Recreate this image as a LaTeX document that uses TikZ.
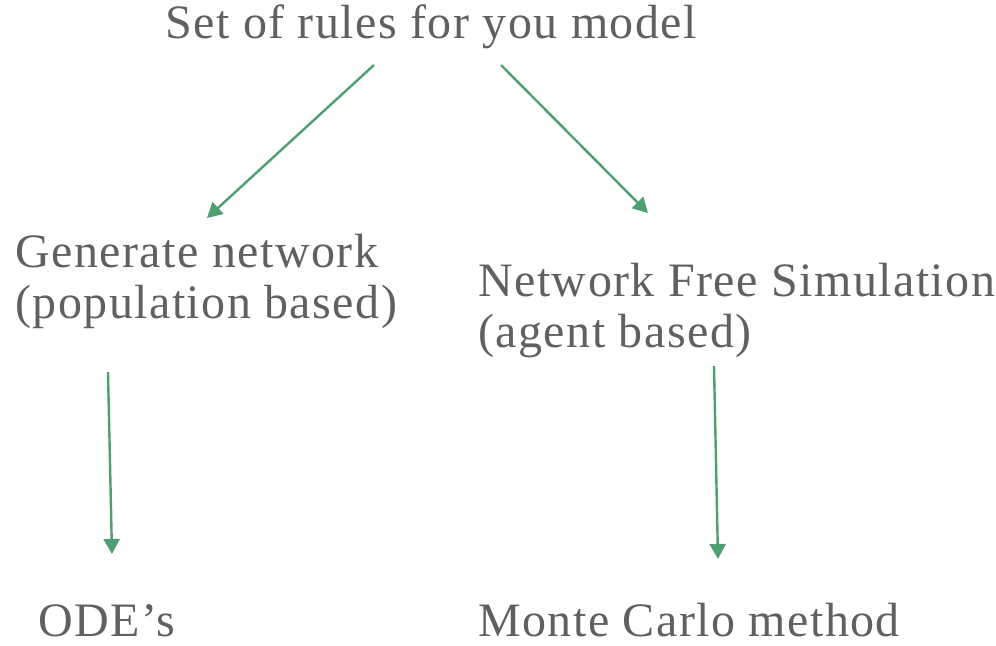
\documentclass[tikz,border=0pt]{standalone}
\usepackage{fontspec}
\setmainfont[LetterSpace=3]{Liberation Serif}
\usetikzlibrary{arrows.meta}
\definecolor{Ink}{HTML}{606060}
\definecolor{Green}{HTML}{4EA072}

\begin{document}
\begin{tikzpicture}[
  x=0.5pt,y=-0.5pt,
  lbl/.style={inner sep=0pt,anchor=base west,align=left,text=Ink,font=\fontsize{24}{25.5}\selectfont},
  arrow/.style={-{Triangle[length=7.5pt,width=8pt]},line width=1.2pt,draw=Green}
]
\useasboundingbox (0,0) rectangle (996,645);
\node[lbl] (rules) at (165,38) {Set of rules for you model};
\node[lbl] (popnet) at (15,318) {Generate network\\(population based)};
\node[lbl] (netfree) at (478,347) {Network Free Simulation\\(agent based)};
\node[lbl] (ode) at (38,636) {ODE’s};
\node[lbl] (monte) at (478,636) {Monte Carlo method};
\draw[arrow] ([shift={(209,27)}]rules.base west) -- ([shift={(192,-100)}]popnet.base west);
\draw[arrow] ([shift={(336,27)}]rules.base west) -- ([shift={(170,-134)}]netfree.base west);
\draw[arrow] ([shift={(93,54)}]popnet.base west) -- ([shift={(74,-82)}]ode.base west);
\draw[arrow] ([shift={(236,19)}]netfree.base west) -- ([shift={(240,-77)}]monte.base west);
\end{tikzpicture}
\end{document}
